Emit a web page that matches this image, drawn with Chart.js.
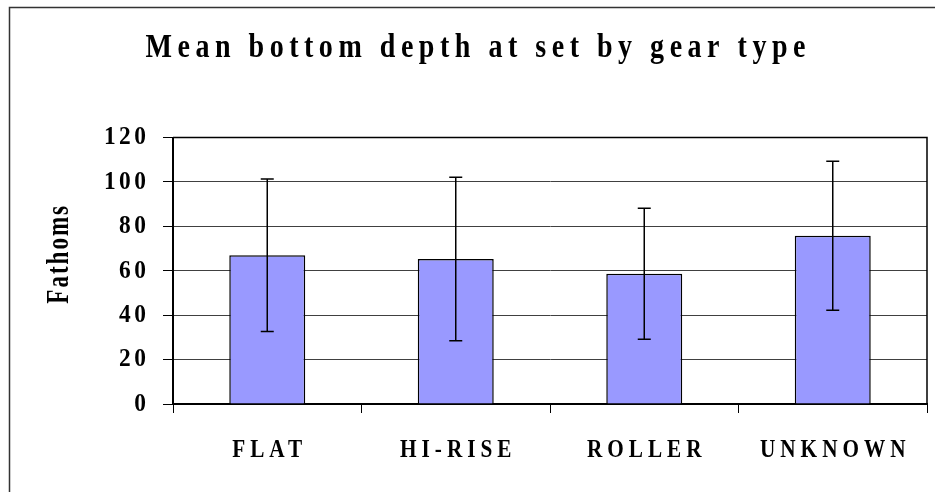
<!DOCTYPE html>
<html><head><meta charset="utf-8">
<script src="https://cdn.jsdelivr.net/npm/chart.js@4.4.1/dist/chart.umd.min.js"></script>
<style>html,body{margin:0;padding:0;background:#fff;}</style>
</head><body>
<canvas id="c" width="935" height="492"></canvas>
<script>
// ---- data ----
const categories = ['FLAT', 'HI-RISE', 'ROLLER', 'UNKNOWN'];
const meanDepth = [67.0, 65.3, 58.7, 75.8];
const errorSize = [34.3, 36.8, 29.5, 33.6];
const yTicks = [0, 20, 40, 60, 80, 100, 120];
const chartTitle = 'Mean bottom depth at set by gear type';
const yTitle = 'Fathoms';

// ---- text styles (keyed by font size): letter spacing, horizontal squeeze, shift along text ----
const FONT = '"Liberation Serif", "Times New Roman", serif';
const textStyle = {
  33: {ls: 5.5, sx: 0.85, dx: 7},    // chart title
  26: {ls: 3.5, sx: 0.9, dx: 0},     // y tick labels
  25: {ls: 5, sx: 0.85, dx: 0},      // x tick labels
  32: {ls: 2, sx: 0.72, dx: 16}      // y axis title
};

const canvas = document.getElementById('c');
const ctx = canvas.getContext('2d');
function styleFor(c) {
  const m = /(\d+(?:\.\d+)?)px/.exec(c.font);
  return m ? textStyle[Math.round(parseFloat(m[1]))] : null;
}
const origFill = ctx.fillText;
ctx.fillText = function (text, x, y) {
  const st = styleFor(this);
  if (!st) { this.letterSpacing = '0px'; return origFill.call(this, text, x, y); }
  this.save();
  this.translate(x, y);
  const al = this.textAlign;
  const comp = (al === 'right' || al === 'end') ? st.ls : (al === 'center' ? st.ls / 2 : 0);
  this.translate(st.dx + comp, 0);
  this.scale(st.sx, 1);
  this.letterSpacing = (st.ls / st.sx) + 'px';
  origFill.call(this, text, 0, 0);
  this.restore();
};
const origMeasure = ctx.measureText;
ctx.measureText = function (text) {
  const st = styleFor(this);
  if (!st) { this.letterSpacing = '0px'; return origMeasure.call(this, text); }
  this.letterSpacing = '0px';
  const m = origMeasure.call(this, text);
  return {width: m.width * st.sx + st.ls * String(text).length};
};

const errorBars = {
  id: 'errorBars',
  afterDatasetsDraw(chart) {
    const meta = chart.getDatasetMeta(0);
    const y = chart.scales.y;
    const c = chart.ctx;
    c.save();
    c.strokeStyle = '#000';
    c.lineWidth = 1.5;
    meta.data.forEach((bar, i) => {
      const x = bar.x;
      const top = y.getPixelForValue(meanDepth[i] + errorSize[i]);
      const bot = y.getPixelForValue(meanDepth[i] - errorSize[i]);
      c.beginPath();
      c.moveTo(x, top); c.lineTo(x, bot);
      c.moveTo(x - 6.5, top); c.lineTo(x + 6.5, top);
      c.moveTo(x - 6.5, bot); c.lineTo(x + 6.5, bot);
      c.stroke();
    });
    c.restore();
  }
};

const frames = {
  id: 'frames',
  beforeDraw(chart) {
    const c = chart.ctx;
    c.save();
    c.fillStyle = '#fff';
    c.fillRect(0, 0, chart.width, chart.height);
    c.strokeStyle = '#333';
    c.lineWidth = 1.5;
    c.strokeRect(9.5, 7.5, chart.width + 20, chart.height + 20);
    c.restore();
  },
  afterDraw(chart) {
    const a = chart.chartArea;
    const c = chart.ctx;
    c.save();
    c.strokeStyle = '#000';
    c.lineWidth = 1.5;
    c.beginPath();
    c.moveTo(a.left, a.top); c.lineTo(a.right, a.top); c.lineTo(a.right, a.bottom);
    c.stroke();
    c.restore();
  }
};

new Chart(ctx, {
  type: 'bar',
  data: {
    labels: categories,
    datasets: [{
      data: meanDepth,
      backgroundColor: '#9999FF',
      borderColor: '#000',
      borderWidth: 1.5,
      categoryPercentage: 1,
      barPercentage: 0.403
    }]
  },
  options: {
    responsive: false,
    animation: false,
    devicePixelRatio: 1,
    layout: {padding: {left: 10, right: 8, top: 10, bottom: 0}},
    plugins: {
      legend: {display: false},
      tooltip: {enabled: false},
      title: {
        display: true, text: chartTitle, color: '#000',
        font: {family: FONT, size: 33, weight: 'bold', lineHeight: 1.2},
        padding: {top: 19, bottom: 69}
      }
    },
    scales: {
      x: {
        grid: {offset: true, drawOnChartArea: false, drawTicks: true, tickLength: 9, tickColor: '#000', lineWidth: 1},
        border: {display: true, color: '#000', width: 2},
        ticks: {color: '#000', font: {family: FONT, size: 25, weight: 'bold'}, padding: 23, maxRotation: 0, autoSkip: false},
        afterFit(s) { s.height = 88; }
      },
      y: {
        min: 0, max: 120,
        afterBuildTicks(s) { s.ticks = yTicks.map(v => ({value: v})); },
        ticks: {color: '#000', font: {family: FONT, size: 26, weight: 'bold'}, padding: 17},
        grid: {color: '#404040', lineWidth: 1, tickLength: 10, tickColor: '#000'},
        border: {display: true, color: '#000', width: 2},
        title: {
          display: true, text: yTitle, color: '#000',
          font: {family: FONT, size: 32, weight: 'bold', lineHeight: 1.2},
          padding: {top: 31, bottom: 0}
        },
        afterFit(s) { s.width = 163; }
      }
    }
  },
  plugins: [frames, errorBars]
});
</script>
</body></html>
